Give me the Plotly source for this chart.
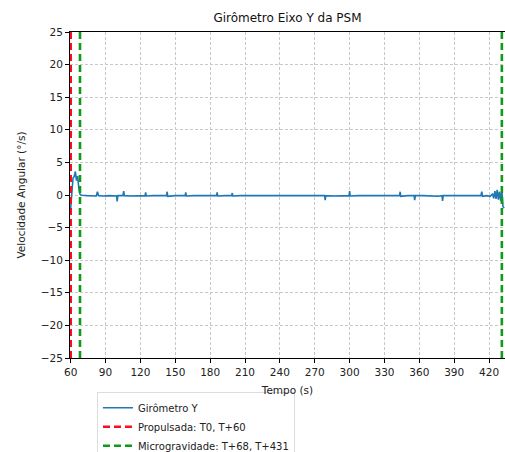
import plotly.graph_objects as go

# Gyroscope Y-axis angular velocity (deg/s) over flight time (s)
tempo = [60.0, 61.0, 62.0, 63.0, 64.0, 65.0, 66.0, 67.0, 68.0, 69.0, 70.0,
         74.0, 78.0, 82.0, 83.0, 84.0, 88.0, 93.0, 99.5, 100.0, 100.5, 105.0,
         105.6, 106.2, 112.0, 118.0, 124.0, 124.5, 125.0, 131.0, 137.0, 142.5,
         143.0, 143.5, 150.0, 158.5, 159.0, 159.5, 166.0, 172.0, 179.0, 185.5,
         186.0, 186.5, 193.0, 198.5, 199.0, 199.5, 206.0, 214.0, 222.0, 230.0,
         238.0, 246.0, 254.0, 262.0, 270.0, 278.5, 279.0, 279.5, 287.0, 294.0,
         299.5, 300.0, 300.5, 308.0, 316.0, 324.0, 332.0, 339.0, 343.0, 343.5,
         344.0, 350.0, 355.5, 356.0, 356.5, 363.0, 370.0, 376.0, 379.5, 380.0,
         380.5, 387.0, 394.0, 400.0, 406.0, 413.0, 413.7, 414.4, 418.0, 421.0,
         423.0, 424.0, 425.0, 426.0, 427.0, 428.0, 429.0, 430.0, 431.0, 432.0,
         433.0]
giro_y = [-2.0, 0.5, 2.6, 2.8, 3.6, 2.2, 2.9, 1.0, 0.1, 0.0, -0.05,
          -0.1, -0.1, -0.15, 0.5, -0.1, -0.15, -0.1, -0.15, -1.0, -0.1, -0.1,
          0.6, -0.1, -0.15, -0.1, -0.1, 0.4, -0.15, -0.1, -0.1, -0.1,
          0.5, -0.2, -0.1, -0.1, 0.4, -0.15, -0.1, -0.1, -0.1, -0.1,
          0.4, -0.15, -0.1, -0.1, 0.3, -0.15, -0.1, -0.1, -0.15, -0.1,
          -0.1, -0.1, -0.15, -0.1, -0.1, -0.1, -0.8, -0.1, -0.15, -0.1,
          -0.1, 0.6, -0.15, -0.1, -0.1, -0.15, -0.1, -0.1, -0.1, 0.5,
          -0.2, -0.1, -0.1, -0.8, -0.1, -0.1, -0.15, -0.2, -0.1, -0.9,
          -0.1, -0.1, -0.15, -0.1, -0.1, -0.1, 0.5, -0.2, -0.1, -0.2,
          0.2, -0.5, 0.6, -0.6, 0.8, -0.7, 0.5, -0.9, 0.7, -1.8,
          -2.0]

# Event markers (s)
propulsada_t = [60, 60]
microgravidade_t = [68, 68, None, 431, 431]
limites_y = [-25, 25]
limites_y2 = [-25, 25, None, -25, 25]

x_ticks = [60, 90, 120, 150, 180, 210, 240, 270, 300, 330, 360, 390, 420]
y_ticks = [-25, -20, -15, -10, -5, 0, 5, 10, 15, 20, 25]

fig = go.Figure()
fig.add_trace(go.Scatter(
    x=tempo, y=giro_y, mode="lines", name="Girômetro Y",
    line=dict(color="#1f77b4", width=1.6),
))
fig.add_trace(go.Scatter(
    x=propulsada_t, y=limites_y, mode="lines", name="Propulsada: T0, T+60",
    line=dict(color="#ff0a1e", width=2.6, dash="7px,4px"),
))
fig.add_trace(go.Scatter(
    x=microgravidade_t, y=limites_y2, mode="lines",
    name="Microgravidade: T+68, T+431",
    line=dict(color="#0f9a1a", width=2.6, dash="7px,4px"),
))

axis_common = dict(
    showline=True, linecolor="black", linewidth=1, mirror=True,
    ticks="outside", ticklen=4, tickcolor="black",
    showgrid=True, gridcolor="#c8c8c8", griddash="3px,2px", gridwidth=1,
    zeroline=False, automargin=False,
    tickfont=dict(family="DejaVu Sans", size=10.5, color="#222"),
)

fig.update_layout(
    width=505, height=452,
    margin=dict(l=70, r=0, t=32, b=94, autoexpand=False),
    paper_bgcolor="white", plot_bgcolor="white",
    title=dict(text="Girômetro Eixo Y da PSM", x=0.5, xanchor="center",
               xref="paper", y=1 - 18 / 452, yanchor="middle",
               font=dict(family="DejaVu Sans", size=12, color="#111")),
    xaxis=dict(range=[59.4, 433.7], tickvals=x_ticks,
               title=dict(text="Tempo (s)", standoff=10,
                          font=dict(family="DejaVu Sans", size=10.5, color="#222")),
               **axis_common),
    yaxis=dict(range=[-25, 25], tickvals=y_ticks,
               tickformat="d",
               title=dict(text="Velocidade Angular (°/s)", standoff=13,
                          font=dict(family="DejaVu Sans", size=10.5, color="#222")),
               **axis_common),
    legend=dict(x=0.062, y=-0.105, xanchor="left", yanchor="top",
                bgcolor="white", bordercolor="#dddddd", borderwidth=1,
                itemwidth=30, tracegroupgap=0,
                font=dict(family="DejaVu Sans", size=10, color="#222")),
    showlegend=True,
)

fig.write_html("out.html")
